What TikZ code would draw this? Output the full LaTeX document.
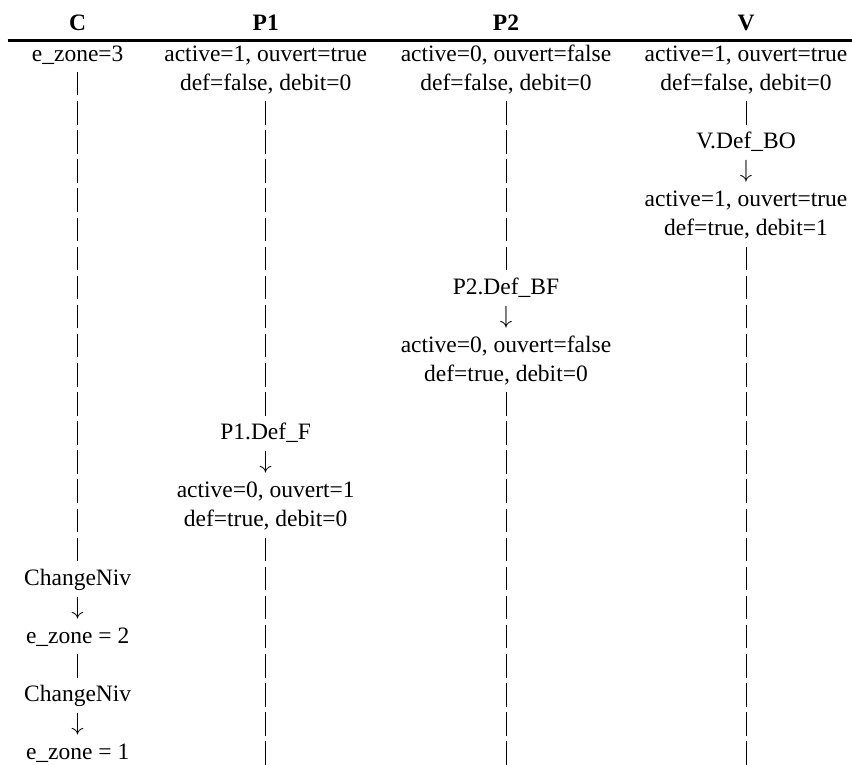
\documentclass[tikz,border=0pt]{standalone}
\usepackage{fontspec}
\setmainfont{Liberation Serif}
\begin{document}
\begin{tikzpicture}[x=1pt,y=-1pt,
  txt/.style={anchor=base, inner sep=0pt, font=\fontsize{23.5}{29.1}\selectfont},
  head/.style={anchor=base, inner sep=0pt, font=\fontsize{23.5}{29.1}\selectfont\bfseries},
  life/.style={line width=1pt}]
\useasboundingbox (0,0) rectangle (852,765);
% column centres
\def\xC{77.7}\def\xPa{265.7}\def\xPb{506}\def\xV{746}
% baseline of row #1
\newcommand\rowy[1]{\fpeval{61.3+29.1*(#1-1)}}

% header and rule
\node[head] (hC)  at (\xC,30.7)  {C};
\node[head] (hP1) at (\xPa,30.7) {P1};
\node[head] (hP2) at (\xPb,30.7) {P2};
\node[head] (hV)  at (\xV,30.7)  {V};
\draw[line width=2.4pt] (7.7,40.7) -- (852,40.7);

% lifeline segments, one per empty row
\foreach \cx/\rows in {\xC/{2,...,18,22}, \xPa/{3,...,13,18,19,...,25},
                       \xPb/{3,...,8,13,14,...,25}, \xV/{3,8,9,...,25}}{
  \foreach \r in \rows {
    \pgfmathsetmacro\yb{61.3+29.1*(\r-1)}
    \draw[life] (\cx,\yb-18.4) -- (\cx,\yb+5.1);
  }
}

% C
\node[txt] (c1)  at (\xC,\rowy{1})  {e\_zone=3};
\node[txt] (c19) at (\xC,\rowy{19}) {ChangeNiv};
\node[txt] (c20) at (\xC,\rowy{20}) {$\downarrow$};
\node[txt] (c21) at (\xC,\rowy{21}) {e\_zone = 2};
\node[txt] (c23) at (\xC,\rowy{23}) {ChangeNiv};
\node[txt] (c24) at (\xC,\rowy{24}) {$\downarrow$};
\node[txt] (c25) at (\xC,\rowy{25}) {e\_zone = 1};

% P1
\node[txt] (p1a) at (\xPa,\rowy{1})  {active=1, ouvert=true};
\node[txt] (p1b) at (\xPa,\rowy{2})  {def=false, debit=0};
\node[txt] (p1e) at (\xPa,\rowy{14}) {P1.Def\_F};
\node[txt] (p1r) at (\xPa,\rowy{15}) {$\downarrow$};
\node[txt] (p1c) at (\xPa,\rowy{16}) {active=0, ouvert=1};
\node[txt] (p1d) at (\xPa,\rowy{17}) {def=true, debit=0};

% P2
\node[txt] (p2a) at (\xPb,\rowy{1})  {active=0, ouvert=false};
\node[txt] (p2b) at (\xPb,\rowy{2})  {def=false, debit=0};
\node[txt] (p2e) at (\xPb,\rowy{9})  {P2.Def\_BF};
\node[txt] (p2r) at (\xPb,\rowy{10}) {$\downarrow$};
\node[txt] (p2c) at (\xPb,\rowy{11}) {active=0, ouvert=false};
\node[txt] (p2d) at (\xPb,\rowy{12}) {def=true, debit=0};

% V
\node[txt] (va) at (\xV,\rowy{1}) {active=1, ouvert=true};
\node[txt] (vb) at (\xV,\rowy{2}) {def=false, debit=0};
\node[txt] (ve) at (\xV,\rowy{4}) {V.Def\_BO};
\node[txt] (vr) at (\xV,\rowy{5}) {$\downarrow$};
\node[txt] (vc) at (\xV,\rowy{6}) {active=1, ouvert=true};
\node[txt] (vd) at (\xV,\rowy{7}) {def=true, debit=1};
\end{tikzpicture}
\end{document}
